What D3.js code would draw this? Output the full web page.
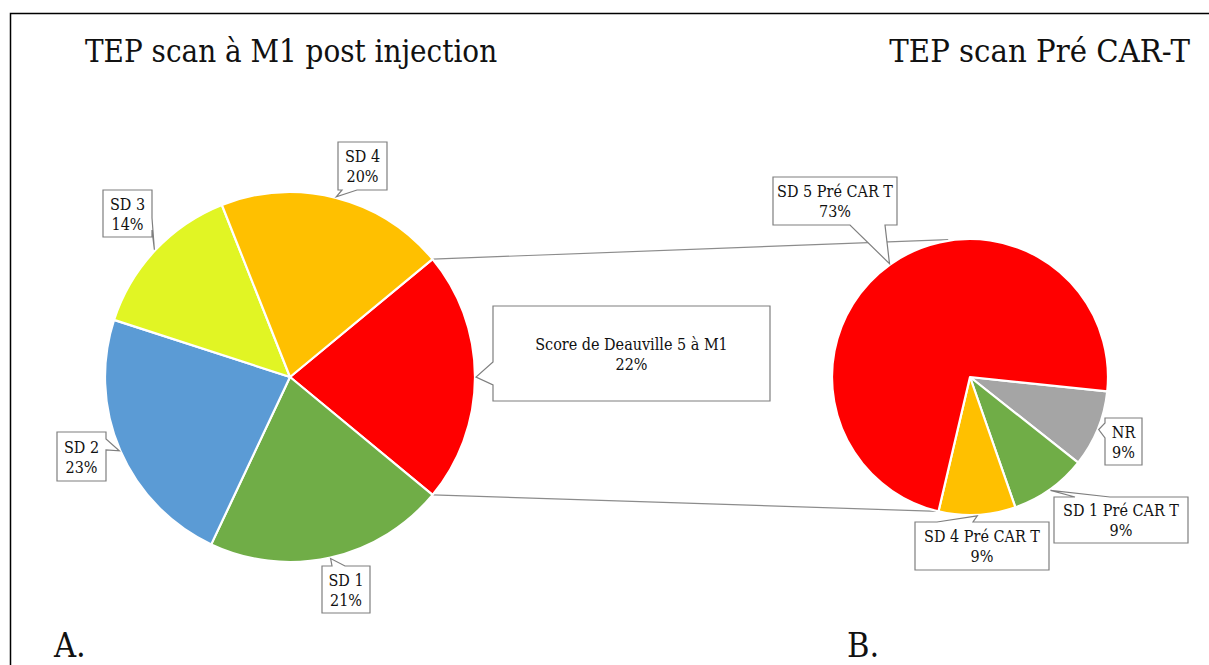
<!DOCTYPE html>
<head>
  <meta charset="utf-8">
  <style>
    body { margin: 0; background: #fff; }
    text { font-stretch: condensed; }
  </style>
<title>TEP scan</title></head>

<body>

  <script src="https://cdn.jsdelivr.net/npm/d3@7/dist/d3.min.js"></script>

  <script>
    // data for the two pies
    var leftLabels = ["Score de Deauville 5 à M1", "SD 1", "SD 2", "SD 3", "SD 4"];
    var leftValues = [22, 21, 23, 14, 20];
    var leftColors = ["#ff0000", "#70ad47", "#5b9bd5", "#e1f524", "#ffc000"];

    var rightLabels = ["NR", "SD 1 Pré CAR T", "SD 4 Pré CAR T", "SD 5 Pré CAR T"];
    var rightValues = [9, 9, 9, 73];
    var rightColors = ["#a5a5a5", "#70ad47", "#ffc000", "#ff0000"];

    var titles = ["TEP scan à M1 post injection", "TEP scan Pré CAR-T"];
    var panels = ["A.", "B."];

    // layout
    var W = 1209, H = 665;
    var L = {cx: 290, cy: 377, r: 185};
    var R = {cx: 970, cy: 377, r: 138};
    var rad = Math.PI / 180;
    // only DejaVu Serif is around as a serif face
    var serif = "'DejaVu Serif Condensed', 'DejaVu Serif', serif";

    // callout boxes [x0, y0, x1, y1] and wedge base [side, from, to]
    var leftBoxes = [
      {box: [493, 306, 770, 401], base: ["left", 362, 385]},
      {box: [322, 566, 370, 613], base: ["top", 332, 345]},
      {box: [57, 432, 106, 481], base: ["right", 439, 450]},
      {box: [103, 190, 152, 237], base: ["right", 218, 230]},
      {box: [338, 142, 387, 190], base: ["bottom", 342, 357]}
    ];
    var rightBoxes = [
      {box: [1105, 418, 1142, 465], base: ["left", 423, 438]},
      {box: [1054, 497, 1188, 543], base: ["top", 1075, 1110]},
      {box: [915, 522, 1049, 570], base: ["top", 937, 973]},
      {box: [773, 177, 897, 225], base: ["bottom", 850, 885]}
    ];

    var svg = d3.select("body").append("svg")
      .attr("width", W).attr("height", H);

    // frame
    svg.append("path")
      .attr("d", "M10.5," + H + "V13.5H" + W)
      .attr("fill", "none").attr("stroke", "#000").attr("stroke-width", 1.5);

    function pt(c, a, r) {
      return [c.cx + r * Math.sin(a), c.cy - r * Math.cos(a)];
    }

    // pies
    var leftTotal = d3.sum(leftValues);
    var leftStart = Math.PI / 2 - Math.PI * leftValues[0] / leftTotal;
    var leftPie = d3.pie().sort(null)
      .startAngle(leftStart).endAngle(leftStart + 2 * Math.PI)(leftValues);

    var rightStart = 96 * rad;
    var rightPie = d3.pie().sort(null)
      .startAngle(rightStart).endAngle(rightStart + 2 * Math.PI)(rightValues);

    // connector lines
    var c1 = pt(L, leftPie[0].startAngle, L.r), c2 = pt(L, leftPie[0].endAngle, L.r);
    var d1 = pt(R, 351 * rad, R.r + 1), d2 = pt(R, rightPie[2].endAngle, R.r);
    svg.append("line").attr("x1", c1[0]).attr("y1", c1[1]).attr("x2", d1[0]).attr("y2", d1[1])
      .attr("stroke", "#8c8c8c").attr("stroke-width", 1.2);
    svg.append("line").attr("x1", c2[0]).attr("y1", c2[1]).attr("x2", d2[0]).attr("y2", d2[1])
      .attr("stroke", "#8c8c8c").attr("stroke-width", 1.2);

    function drawPie(c, arcs, colors) {
      var arc = d3.arc().innerRadius(0).outerRadius(c.r);
      svg.append("g").attr("transform", "translate(" + c.cx + "," + c.cy + ")")
        .selectAll("path").data(arcs).join("path")
        .attr("d", arc)
        .attr("fill", function(d, i) { return colors[i]; })
        .attr("stroke", "#fff").attr("stroke-width", 2.2)
        .attr("stroke-linejoin", "round");
    }
    drawPie(L, leftPie, leftColors);
    drawPie(R, rightPie, rightColors);

    // callout: box with wedge pointing at slice mid on the edge
    function callout(c, d, lay, label, total) {
      var mid = (d.startAngle + d.endAngle) / 2;
      var tip = pt(c, mid, c.r + 1);
      var b = lay.box, s = lay.base;
      var x0 = b[0], y0 = b[1], x1 = b[2], y1 = b[3];
      var p = [];
      if (s[0] == "top") p = [[x0, y0], [s[1], y0], tip, [s[2], y0], [x1, y0], [x1, y1], [x0, y1]];
      if (s[0] == "right") p = [[x0, y0], [x1, y0], [x1, s[1]], tip, [x1, s[2]], [x1, y1], [x0, y1]];
      if (s[0] == "bottom") p = [[x0, y0], [x1, y0], [x1, y1], [s[2], y1], tip, [s[1], y1], [x0, y1]];
      if (s[0] == "left") p = [[x0, y0], [x1, y0], [x1, y1], [x0, y1], [x0, s[2]], tip, [x0, s[1]]];
      svg.append("path")
        .attr("d", "M" + p.map(function(q) { return q[0].toFixed(1) + "," + q[1].toFixed(1); }).join("L") + "Z")
        .attr("fill", "#fff").attr("stroke", "#7f7f7f").attr("stroke-width", 1.2);
      var cx = (x0 + x1) / 2, cy = (y0 + y1) / 2;
      var t = svg.append("text").attr("text-anchor", "middle").attr("font-size", 16)
        .attr("font-family", serif).attr("fill", "#111");
      t.append("tspan").attr("x", cx).attr("y", cy - 4).text(label);
      t.append("tspan").attr("x", cx).attr("y", cy + 16)
        .text(Math.round(100 * d.data / total) + "%");
    }
    leftPie.forEach(function(d, i) { callout(L, d, leftBoxes[i], leftLabels[i], leftTotal); });
    var rightTotal = d3.sum(rightValues);
    rightPie.forEach(function(d, i) { callout(R, d, rightBoxes[i], rightLabels[i], rightTotal); });

    // titles
    function big(x, y, s, anchor, size) {
      svg.append("text").attr("x", x).attr("y", y).attr("font-size", size)
        .attr("font-family", serif).attr("fill", "#111")
        .attr("text-anchor", anchor).text(s);
    }
    big(85, 62, titles[0], "start", 31);
    big(1190, 62, titles[1], "end", 32.5);
    big(54, 657, panels[0], "start", 34);
    big(847, 657, panels[1], "start", 34);
  </script>

</body>
